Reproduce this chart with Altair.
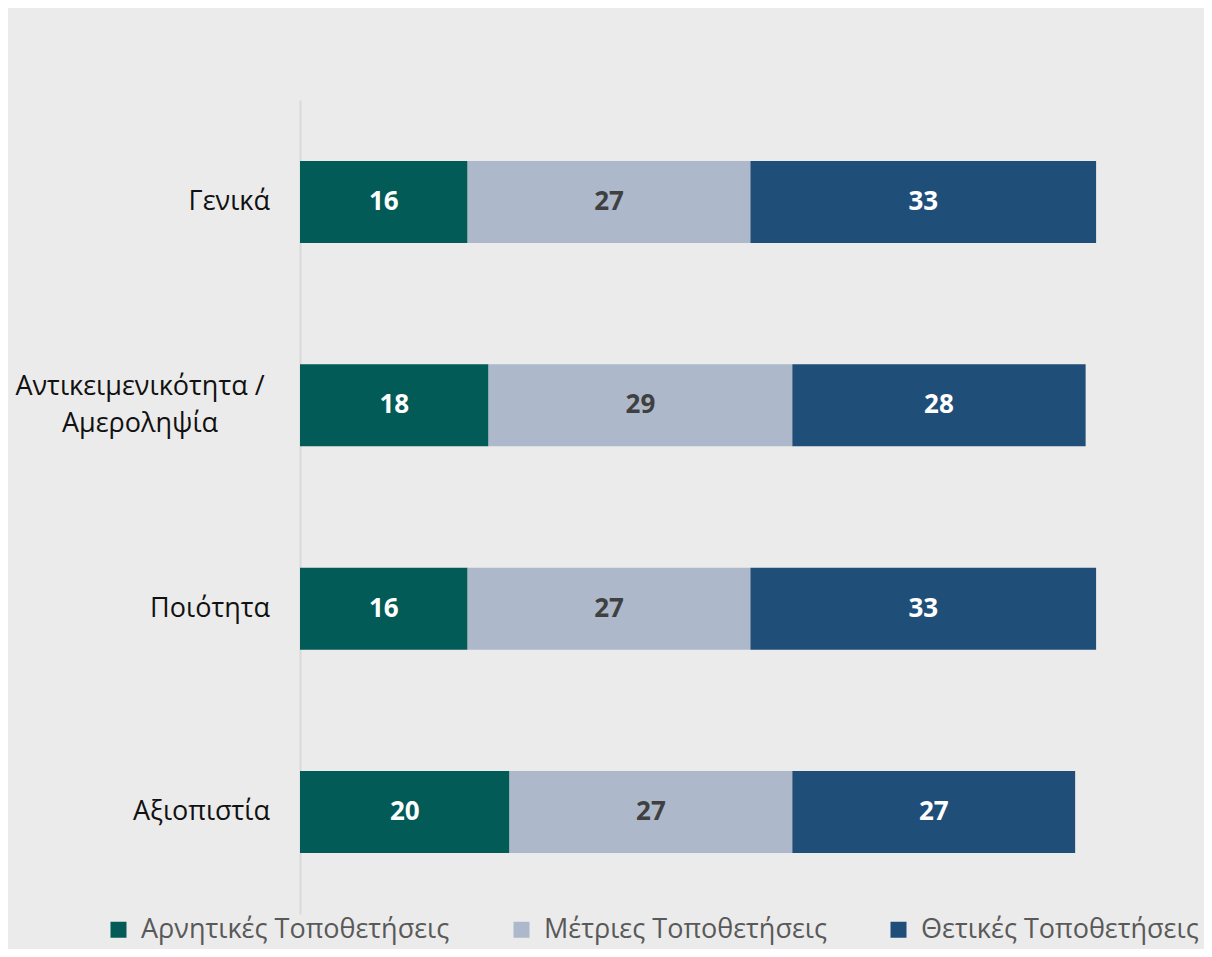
import altair as alt
import pandas as pd

categories = ["Γενικά", "Αντικειμενικότητα / Αμεροληψία", "Ποιότητα", "Αξιοπιστία"]
series = ["Αρνητικές Τοποθετήσεις", "Μέτριες Τοποθετήσεις", "Θετικές Τοποθετήσεις"]
negative = [16, 18, 16, 20]
moderate = [27, 29, 27, 27]
positive = [33, 28, 33, 27]
colors = ["#025b57", "#adb9cb", "#1f4e79"]
label_colors = ["#ffffff", "#404040", "#ffffff"]

rows = []
for i, c in enumerate(categories):
    for j, (s, vals) in enumerate(zip(series, [negative, moderate, positive])):
        rows.append({"cat": c, "series": s, "value": vals[i], "order": j, "tc": label_colors[j]})
df = pd.DataFrame(rows)
cat_df = pd.DataFrame({"cat": categories})

FONT = "Open Sans"

yenc = alt.Y("cat:N", sort=categories,
             scale=alt.Scale(paddingInner=0.597, paddingOuter=0.3),
             axis=alt.Axis(title=None, labels=False, ticks=False, domain=True,
                           domainColor="#d9d9d9", domainWidth=2, grid=False))
xscale = alt.Scale(domain=[0, 80])

bars = alt.Chart(df).mark_bar().encode(
    x=alt.X("value:Q", stack="zero", scale=xscale, axis=None),
    y=yenc,
    color=alt.Color("series:N", sort=series,
                    scale=alt.Scale(domain=series, range=colors),
                    legend=alt.Legend(title=None, orient="none", direction="horizontal",
                                      legendX=-195, legendY=816,
                                      symbolType="square", symbolSize=256,
                                      symbolStrokeWidth=0, symbolOpacity=1,
                                      labelFont=FONT, labelFontSize=27,
                                      labelColor="#595959", labelOffset=9,
                                      labelLimit=500,
                                      columnPadding=58)),
    order=alt.Order("order:Q"),
)

labels = alt.Chart(df).transform_stack(
    stack="value", groupby=["cat"], as_=["v0", "v1"],
    sort=[alt.SortField("order", order="ascending")]
).transform_calculate(mid="(datum.v0 + datum.v1) / 2").mark_text(
    font=FONT, fontSize=26, fontWeight="bold", baseline="middle", align="center"
).encode(
    x=alt.X("mid:Q", scale=xscale),
    y=alt.Y("cat:N", sort=categories),
    text=alt.Text("value:Q"),
    color=alt.Color("tc:N", scale=None),
)

single = alt.Chart(cat_df).transform_filter(
    "indexof(datum.cat, '/') < 0"
).mark_text(font=FONT, fontSize=27, align="right", baseline="middle", color="#111111").encode(
    x=alt.value(-30), y=alt.Y("cat:N", sort=categories), text="cat:N"
)

double = alt.Chart(cat_df).transform_filter(
    "indexof(datum.cat, '/') >= 0"
).transform_calculate(
    lab="split(datum.cat, ' / ')[0] + ' /\\n' + split(datum.cat, ' / ')[1]"
).mark_text(font=FONT, fontSize=27, align="center", baseline="middle",
            lineBreak="\n", lineHeight=37, dy=-18, color="#111111").encode(
    x=alt.value(-160), y=alt.Y("cat:N", sort=categories), text="lab:N"
)

chart = alt.layer(bars, labels, single, double).properties(
    width=838, height=814,
    autosize=alt.AutoSizeParams(type="none"),
    padding={"left": 292, "top": 92, "right": 66, "bottom": 35},
    background="#ebebeb",
).configure_view(stroke=None)

chart.save("out.html", embed_options={"renderer": "svg", "actions": False})
